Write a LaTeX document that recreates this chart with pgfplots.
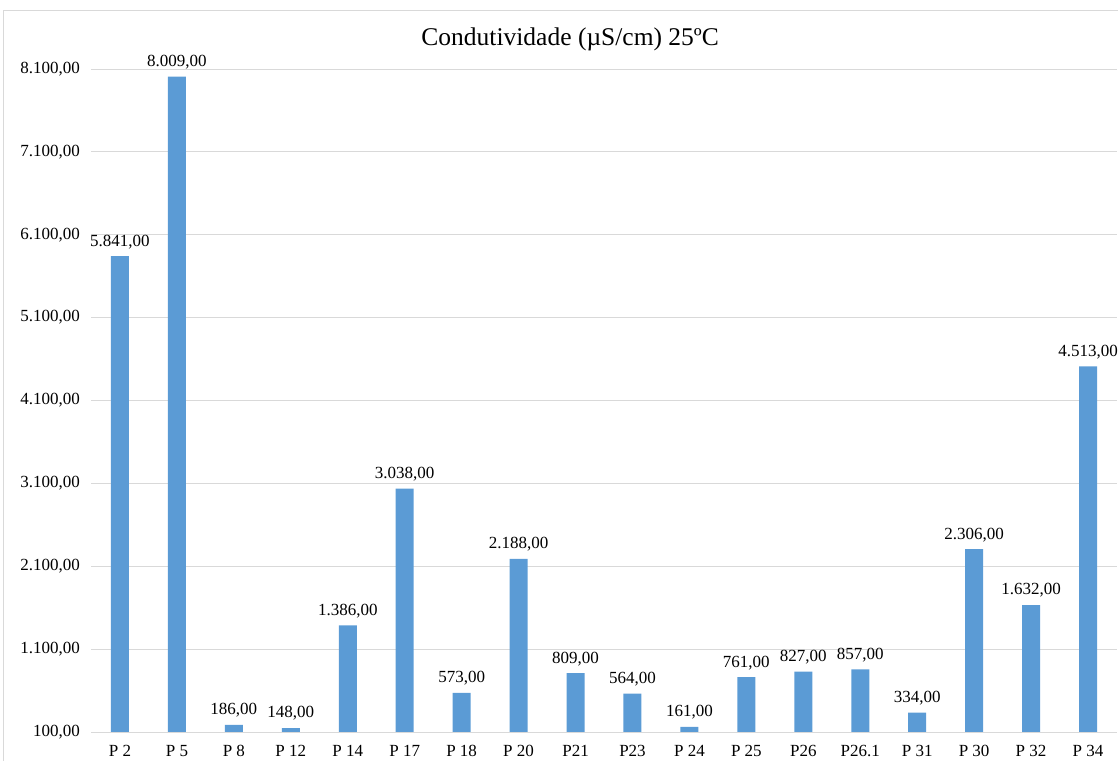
\documentclass[border=0pt]{standalone}
\usepackage{pgfplots}
\pgfplotsset{compat=1.18}
\usepackage{fontspec}
\setmainfont{Liberation Serif}
\definecolor{barblue}{HTML}{5B9BD5}
\definecolor{gridgray}{HTML}{D9D9D9}
\begin{document}
\begin{tikzpicture}
\begin{axis}[
  scale only axis,
  width=1025pt, height=663pt,
  ybar, bar width=18pt,
  ymin=100, ymax=8100,
  xmin=-0.5, xmax=17.5,
  ytick={100,1100,2100,3100,4100,5100,6100,7100,8100},
  xtick=data,
  xticklabels={P 2,P 5,P 8,P 12,P 14,P 17,P 18,P 20,P21,P23,P 24,P 25,P26,P26.1,P 31,P 30,P 32,P 34},
  ymajorgrids, grid style={gridgray, line width=0.8pt},
  axis line style={draw=none},
  major tick length=0pt,
  /pgf/number format/assume math mode=true,
  /pgf/number format/.cd, fixed, fixed zerofill, precision=2, use comma, 1000 sep={.},
  /pgfplots/.cd,
  yticklabel style={font=\fontsize{17}{20}\selectfont, xshift=-8pt},
  xticklabel style={font=\fontsize{17}{20}\selectfont, yshift=-10pt},
  nodes near coords,
  every node near coord/.append style={font=\fontsize{17}{20}\selectfont, yshift=4pt},
  title={Condutividade (µS/cm) 25ºC},
  title style={font=\fontsize{25.5}{30}\selectfont, at={(0.467,1)}, anchor=south, yshift=9pt},
]
\addplot[fill=barblue, draw=none] coordinates {
(0,5841) (1,8009) (2,186) (3,148) (4,1386) (5,3038) (6,573) (7,2188) (8,809)
(9,564) (10,161) (11,761) (12,827) (13,857) (14,334) (15,2306) (16,1632) (17,4513)};
\end{axis}
\draw[gridgray, line width=1pt] ([xshift=-87.5pt,yshift=-40pt]current axis.south west) |- ([xshift=30pt,yshift=58pt]current axis.north east);
\pgfresetboundingbox
\useasboundingbox ([xshift=-91.5pt,yshift=-29pt]current axis.south west) rectangle ([xshift=1.5pt,yshift=69pt]current axis.north east);
\end{tikzpicture}
\end{document}
